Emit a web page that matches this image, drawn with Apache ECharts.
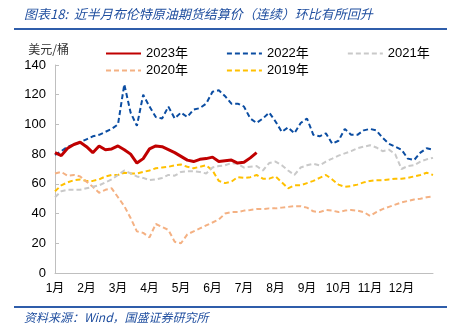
<!DOCTYPE html>
<html>
<head>
<meta charset="utf-8">
<script src="https://cdn.jsdelivr.net/npm/echarts@6/dist/echarts.min.js"></script>
<style>
  html, body { margin: 0; padding: 0; background: #fff; }
  #chart { width: 452px; height: 331px; }
</style>
</head>
<body>
<div id="chart"></div>
<script>
// Brent crude settlement price (continuous), USD/bbl, sampled every 0.2 month
const STEP = 0.2;
const monthLabels = ['1月','2月','3月','4月','5月','6月','7月','8月','9月','10月','11月','12月'];
const seriesNames = ['2023年','2022年','2021年','2020年','2019年'];

const y2023 = [81,79,84,86.5,88,85,81,85.5,83,83.5,85.5,83,80,74,77,83.5,85.5,85,83,81,78.5,76,75,76.5,77,78,75,75.5,76,74,74.5,77.5,81];

const y2022 = [79.5,82,85,86.5,88,90,92,93,95,97,100,127,108,99,120,112,105,104,112,104,108,105,110,111,114,122,123,119,114,114,112,104,101,104,108,102,95,98,94,101,104,93,92,94,87,89,97,93,93,96,97,96,91,87,85,83,77,76,81,84,83];

const y2021 = [51,55,56,56,56,57,58,59,61,63,66,69,67,65,64,62.5,63,64,66,65.5,68,68.5,68.5,68,67,71,72,72.5,74,73.5,71,71.5,72,69,74,75,72.5,69,66,71,72.5,73.5,72.5,75,77,79,80.5,82,84,85,86,84.5,82,83,80,70,72,72.5,75,76.5,77.5];

const y2020 = [67,68,65.5,66,65,61.5,58,54,56,57,51,45,37,28,27,24,33,31,29,21,20,26,28,30,32,34,36,40,41,41,42,42.4,43,43,43.5,43.5,44,44.5,45,45,44,41.5,41,42.4,42,41,42,42.4,42,41,38.5,41,43,44.5,46,47.5,48.5,49.5,50,51,51.5];

const y2019 = [55,59,61,62.5,63,62,62,63,65,66,66,67.5,67,67,68,69,70.5,71,71.5,72.5,73,71.5,70.5,71.5,72.5,69,62,60.5,61.5,64.5,64,64.5,66,63.5,63.5,65,61,57,59,59,60.5,62,64,66,63,59.5,58,58.5,59.5,61,62,62.5,62.5,63,63.5,63.5,64,65,66,67.5,66];

const toPoints = arr => arr.map((v, i) => [+(i * STEP).toFixed(2), v]);

const chart = echarts.init(document.getElementById('chart'), null, { renderer: 'canvas' });

const dash = [5, 3];
const styles = {
  '2023年': { color: '#C00000', width: 3, type: 'solid' },
  '2022年': { color: '#0B4DA2', width: 2, type: dash },
  '2021年': { color: '#C9C9C9', width: 2, type: dash },
  '2020年': { color: '#F4B183', width: 2, type: dash },
  '2019年': { color: '#FFC000', width: 2, type: dash }
};
const dataMap = { '2023年': y2023, '2022年': y2022, '2021年': y2021, '2020年': y2020, '2019年': y2019 };

// draw older years first so 2023 sits on top
const drawOrder = ['2019年','2020年','2021年','2022年','2023年'];
const series = drawOrder.map(name => ({
  name,
  type: 'line',
  data: toPoints(dataMap[name]),
  symbol: 'none',
  smooth: false,
  color: styles[name].color,
  lineStyle: { color: styles[name].color, width: styles[name].width, type: styles[name].type },
  animation: false
}));

const legendText = { color: '#000', fontSize: 13, fontFamily: 'Liberation Sans, Noto Sans CJK SC, sans-serif' };
const legendBase = {
  itemWidth: 35, itemHeight: 14, itemGap: 38, textStyle: legendText,
  // line-only keys: hide the marker dot drawn over the line sample
  itemStyle: { opacity: 0 }
};

chart.setOption({
  backgroundColor: '#fff',
  animation: false,
  grid: { left: 55, right: 19, top: 65, bottom: 58 },
  legend: [
    Object.assign({ data: ['2023年','2022年','2021年'], left: 100, top: 42 }, legendBase),
    Object.assign({ data: ['2020年','2019年'], left: 100, top: 59 }, legendBase)
  ],
  xAxis: {
    type: 'value', min: 0, max: 12, interval: 1,
    axisLine: { lineStyle: { color: '#BFBFBF', width: 1 } },
    axisTick: { show: false },
    splitLine: { show: false },
    axisLabel: {
      color: '#000', fontSize: 12, margin: 10,
      fontFamily: 'Liberation Sans, Noto Sans CJK SC, sans-serif',
      formatter: v => (v >= 0 && v < 12) ? monthLabels[v] : ''
    }
  },
  yAxis: {
    type: 'value', min: 0, max: 140, interval: 20,
    name: '美元/桶',
    nameLocation: 'end',
    nameGap: 10,
    nameTextStyle: { color: '#333', fontSize: 12, align: 'right', padding: [0, -14, 0, 0], fontFamily: 'Noto Sans CJK SC, sans-serif' },
    axisLine: { show: true, lineStyle: { color: '#BFBFBF', width: 1 } },
    axisTick: { show: true, inside: true, length: 4, lineStyle: { color: '#BFBFBF' } },
    splitLine: { show: false },
    axisLabel: { color: '#000', fontSize: 13, margin: 9, fontFamily: 'Liberation Sans, sans-serif' }
  },
  series,
  graphic: [
    {
      type: 'text', left: 24, top: 8,
      style: {
        text: '图表18:  近半月布伦特原油期货结算价（连续）环比有所回升',
        fill: '#1F4E9F', fontSize: 13, fontStyle: 'italic',
        fontFamily: 'Noto Sans CJK SC, sans-serif'
      }
    },
    { type: 'line', shape: { x1: 14, y1: 29, x2: 447, y2: 29 }, style: { stroke: '#2F5DAA', lineWidth: 2 } },
    { type: 'line', shape: { x1: 14, y1: 307, x2: 447, y2: 307 }, style: { stroke: '#2F5DAA', lineWidth: 2 } },
    {
      type: 'text', left: 24, top: 311,
      style: {
        text: '资料来源：Wind，国盛证券研究所',
        fill: '#1F4E9F', fontSize: 12, fontStyle: 'italic',
        fontFamily: 'Noto Sans CJK SC, sans-serif'
      }
    }
  ]
});
</script>
</body>
</html>
